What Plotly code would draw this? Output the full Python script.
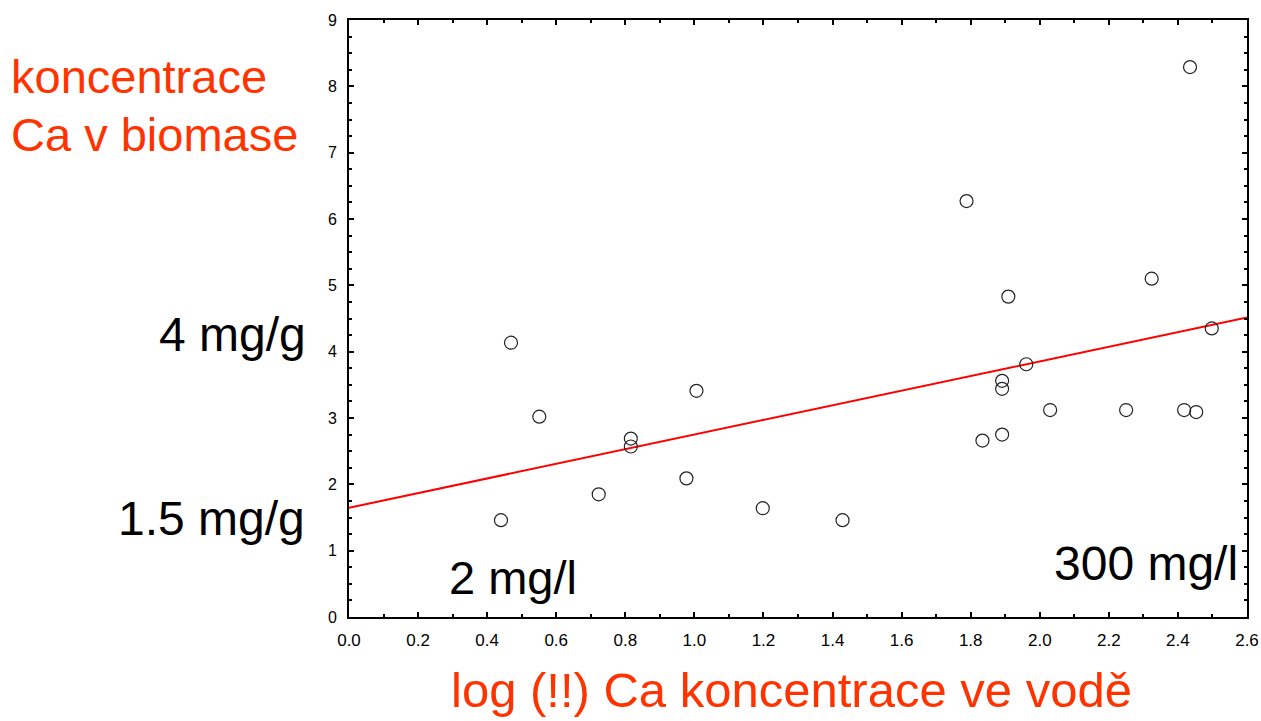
import plotly.graph_objects as go

# data
ca_log_water = [0.44, 0.469, 0.551, 0.723, 0.816, 0.816, 0.977, 1.006, 1.198, 1.429,
                1.788, 1.834, 1.891, 1.891, 1.891, 1.909, 1.961, 2.030, 2.25, 2.324,
                2.418, 2.435, 2.453, 2.498]
ca_biomass = [1.46, 4.135, 3.02, 1.85, 2.69, 2.57, 2.09, 3.41, 1.64, 1.46,
              6.27, 2.66, 3.56, 3.44, 2.75, 4.83, 3.81, 3.12, 3.12, 5.10,
              3.12, 8.29, 3.09, 4.35]
fit_x = [0.0, 2.6]
fit_y = [1.647, 4.515]

W, H = 1261, 721
L, R, T, B = 349, 1247.5, 20, 617

def px(xp):
    return (xp - L) / (R - L)

def py(yp):
    return (B - yp) / (B - T)

ORANGE = "#ff3300"
FONT = "Liberation Sans, Arial, sans-serif"

fig = go.Figure()
fig.add_trace(go.Scatter(x=fit_x, y=fit_y, mode="lines",
                         line=dict(color="#ff0000", width=2), showlegend=False,
                         hoverinfo="skip"))
fig.add_trace(go.Scatter(x=ca_log_water, y=ca_biomass, mode="markers",
                         marker=dict(symbol="circle-open", size=13,
                                     color="#222222", line=dict(width=1.2)),
                         showlegend=False))

axis_common = dict(showline=True, linecolor="black", linewidth=2, mirror="ticks",
                   ticks="inside", ticklen=5, tickwidth=1.5, tickcolor="black",
                   showgrid=False, zeroline=False, automargin=False)

fig.update_xaxes(range=[0, 2.6], tickvals=[i / 5 for i in range(14)],
                 ticktext=[f"{i / 5:.1f}" for i in range(14)],
                 minor=dict(dtick=0.1, ticks="inside", ticklen=3, tickcolor="black"),
                 tickfont=dict(family=FONT, size=17, color="black"),
                 ticklabelstandoff=7, **axis_common)
fig.update_yaxes(range=[0, 9], dtick=1,
                 minor=dict(dtick=0.25, ticks="inside", ticklen=3, tickcolor="black"),
                 tickfont=dict(family=FONT, size=16, color="black"),
                 ticklabelstandoff=7, **axis_common)

annos = [
    dict(text="koncentrace", x=px(9), y=py(77), xanchor="left", yanchor="middle",
         font=dict(family=FONT, size=47, color=ORANGE)),
    dict(text="Ca v biomase", x=px(9), y=py(134), xanchor="left", yanchor="middle",
         font=dict(family=FONT, size=47, color=ORANGE)),
    dict(text="4 mg/g", x=px(308), y=py(334), xanchor="right", yanchor="middle",
         font=dict(family=FONT, size=48, color="black")),
    dict(text="1.5 mg/g", x=px(307), y=py(518), xanchor="right", yanchor="middle",
         font=dict(family=FONT, size=48, color="black")),
    dict(text="2 mg/l", x=px(447), y=py(577), xanchor="left", yanchor="middle",
         font=dict(family=FONT, size=47, color="black")),
    dict(text="300 mg/l", x=px(1240), y=py(563), xanchor="right", yanchor="middle",
         font=dict(family=FONT, size=48, color="black")),
    dict(text="log (!!) Ca koncentrace ve vodě", x=px(792), y=py(690),
         xanchor="center", yanchor="middle",
         font=dict(family=FONT, size=49, color=ORANGE)),
]
for a in annos:
    fig.add_annotation(xref="paper", yref="paper", showarrow=False, **a)

fig.update_layout(width=W, height=H, autosize=False,
                  margin=dict(l=L, r=W - R, t=T, b=H - B, pad=0),
                  plot_bgcolor="white", paper_bgcolor="white")

fig.write_html("out.html")
